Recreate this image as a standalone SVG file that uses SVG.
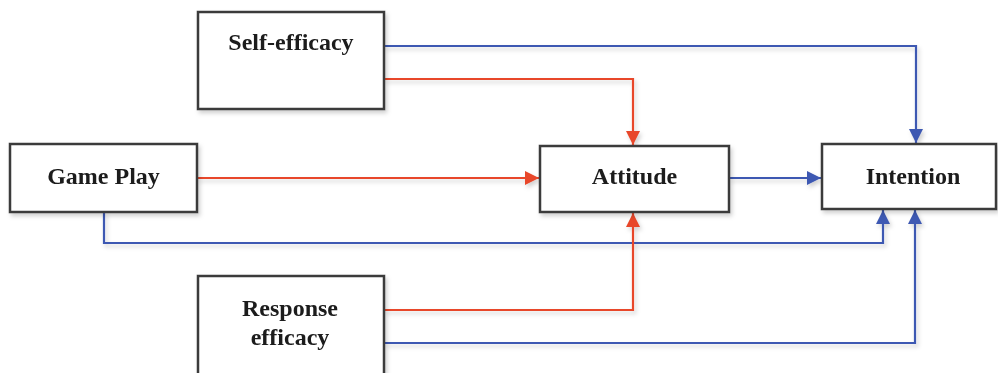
<svg xmlns="http://www.w3.org/2000/svg" width="998" height="373" viewBox="0 0 998 373">
<style>
.box{fill:#fff;stroke:#3a3a3a;stroke-width:2.5}
.lbl{font-family:"Liberation Serif","Times New Roman",serif;font-weight:bold;font-size:24px;fill:#1a1a1a;text-anchor:middle}
.red{fill:none;stroke:#e8472a;stroke-width:2.2}
.blue{fill:none;stroke:#3d58b2;stroke-width:2.2}
</style>
<defs>
<filter id="sh" x="-10%" y="-10%" width="130%" height="130%">
<feDropShadow dx="2" dy="3" stdDeviation="2" flood-color="#000" flood-opacity="0.18"/>
</filter>
<marker id="ar" viewBox="0 0 14 14" refX="14" refY="7" markerWidth="14" markerHeight="14" markerUnits="userSpaceOnUse" orient="auto">
<path d="M0,0 L14,7 L0,14 Z" fill="#e8472a"/>
</marker>
<marker id="ab" viewBox="0 0 14 14" refX="14" refY="7" markerWidth="14" markerHeight="14" markerUnits="userSpaceOnUse" orient="auto">
<path d="M0,0 L14,7 L0,14 Z" fill="#3d58b2"/>
</marker>
</defs>
<g id="connectors" filter="url(#sh)">
<path class="blue" d="M384,46 H916 V143" marker-end="url(#ab)"/>
<path class="red" d="M384,79 H633 V145" marker-end="url(#ar)"/>
<path class="red" d="M197,178 H539" marker-end="url(#ar)"/>
<path class="blue" d="M104,212 V243 H883 V210" marker-end="url(#ab)"/>
<path class="blue" d="M729,178 H821" marker-end="url(#ab)"/>
<path class="red" d="M384,310 H633 V213" marker-end="url(#ar)"/>
<path class="blue" d="M384,343 H915 V210" marker-end="url(#ab)"/>
</g>
<g id="self-efficacy" filter="url(#sh)">
<rect class="box" x="198" y="12" width="186" height="97"/>
<text class="lbl" x="291" y="50">Self-efficacy</text>
</g>
<g id="game-play" filter="url(#sh)">
<rect class="box" x="10" y="144" width="187" height="68"/>
<text class="lbl" x="103.5" y="184">Game Play</text>
</g>
<g id="attitude" filter="url(#sh)">
<rect class="box" x="540" y="146" width="189" height="66"/>
<text class="lbl" x="634.5" y="184">Attitude</text>
</g>
<g id="intention" filter="url(#sh)">
<rect class="box" x="822" y="144" width="174" height="65"/>
<text class="lbl" x="913" y="184">Intention</text>
</g>
<g id="response-efficacy" filter="url(#sh)">
<rect class="box" x="198" y="276" width="186" height="110"/>
<text class="lbl" x="290" y="316">Response</text>
<text class="lbl" x="290" y="345">efficacy</text>
</g>
</svg>
